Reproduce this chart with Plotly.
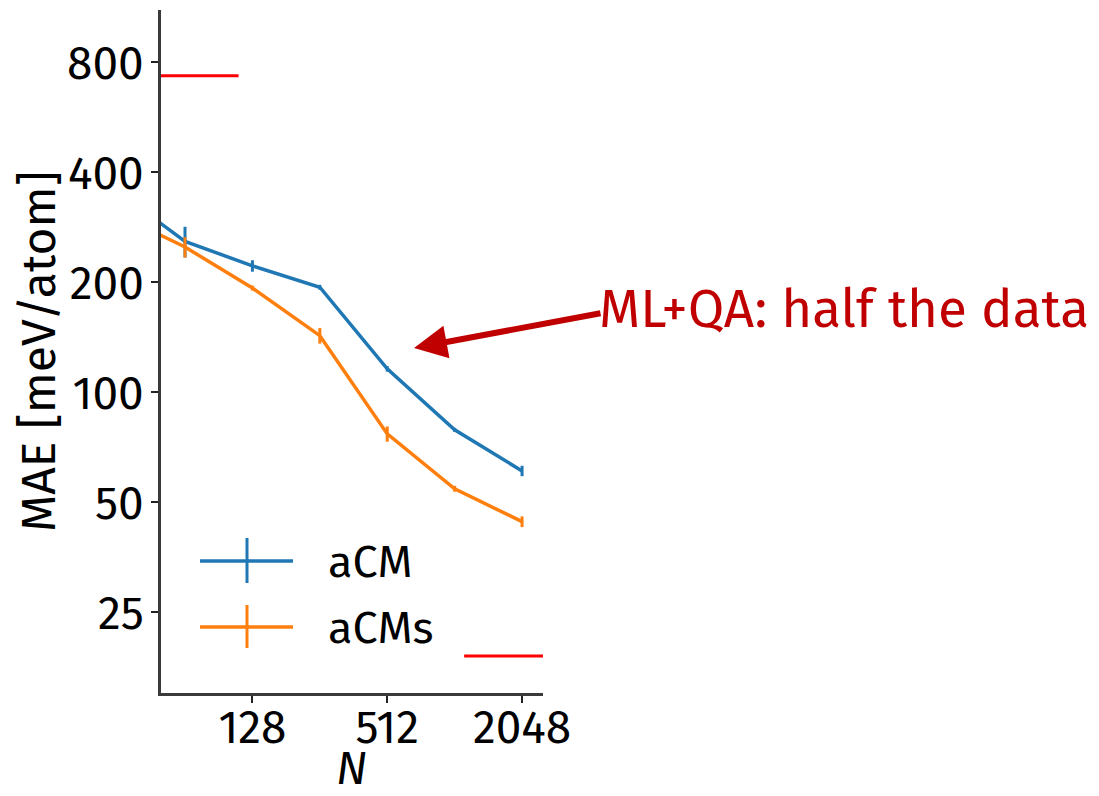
import plotly.graph_objects as go
import numpy as np

# ---- data ----
N = [32, 64, 128, 256, 512, 1024, 2048]
acm = [355, 259, 222, 194, 116, 79, 61]
acm_err = [20, 25, 8, 3, 2, 1, 2]
acms = [307, 250, 193, 143, 77, 54.5, 44.3]
acms_err = [20, 16, 3, 7, 3.7, 1, 1.5]

ref_top_x = [32, 111]
ref_top_y = [736, 736]
ref_bot_x = [1129, 4096]
ref_bot_y = [19, 19]

x_ticks = [128, 512, 2048]
y_ticks = [25, 50, 100, 200, 400, 800]

series_names = ["aCM", "aCMs"]
annotation_text = "ML+QA: half the data"
x_title = "<i>N</i>"
y_title = "MAE [meV/atom]"

BLUE = "#1f77b4"
ORANGE = "#ff7f0e"
DARKRED = "#c00000"
FONT = "Fira Sans, Noto Sans, sans-serif"

fig = go.Figure()

fig.add_trace(go.Scatter(x=ref_top_x, y=ref_top_y, mode="lines",
                         line=dict(color="red", width=3), showlegend=False))
fig.add_trace(go.Scatter(x=ref_bot_x, y=ref_bot_y, mode="lines",
                         line=dict(color="red", width=3), showlegend=False))

for y, e, c, name in [(acm, acm_err, BLUE, series_names[0]),
                      (acms, acms_err, ORANGE, series_names[1])]:
    fig.add_trace(go.Scatter(
        x=N, y=y, mode="lines", name=name,
        line=dict(color=c, width=3.5),
        error_y=dict(type="data", array=e, visible=True,
                     color=c, thickness=3, width=0),
        showlegend=False))

# plot area in page pixels (the page body adds an 8px offset)
OFF = 8
L, R, T, B = 161, 543, 10, 693
W, H = 1099 - OFF, 796 - OFF


def px(xp):
    return (xp - L) / (R - L)


def py(yp):
    return (B - yp) / (B - T)


# manual legend (line with error-bar cross)
shapes = []
annots = []
for (ly, bar_top, bar_bot, c, name) in [(561, 538, 583, BLUE, series_names[0]),
                                         (627, 605, 648, ORANGE, series_names[1])]:
    shapes.append(dict(type="line", xref="paper", yref="paper",
                       x0=px(200), x1=px(293), y0=py(ly), y1=py(ly),
                       line=dict(color=c, width=3.5)))
    shapes.append(dict(type="line", xref="paper", yref="paper",
                       x0=px(247), x1=px(247), y0=py(bar_top), y1=py(bar_bot),
                       line=dict(color=c, width=3)))
    annots.append(dict(xref="paper", yref="paper", x=px(326), y=py(ly + 1),
                       xanchor="left", yanchor="middle", text=name,
                       showarrow=False, font=dict(family=FONT, size=45, color="black")))

# arrow
annots.append(dict(xref="paper", yref="paper", x=px(414), y=py(348),
                   ax=188, ay=-35, axref="pixel", ayref="pixel",
                   text="", showarrow=True, arrowhead=2, arrowsize=1.1,
                   arrowwidth=6, arrowcolor=DARKRED))
# annotation text
annots.append(dict(xref="paper", yref="paper", x=px(597), y=py(309),
                   xanchor="left", yanchor="middle", text=annotation_text,
                   showarrow=False, font=dict(family=FONT, size=53, color=DARKRED)))

# axis titles
annots.append(dict(xref="paper", yref="paper", x=px(351), y=py(769),
                   xanchor="center", yanchor="middle", text=x_title,
                   showarrow=False, font=dict(family=FONT, size=46, color="black")))
annots.append(dict(xref="paper", yref="paper", x=px(39), y=py(352),
                   xanchor="center", yanchor="middle", text=y_title, textangle=-90,
                   showarrow=False, font=dict(family=FONT, size=48, color="black")))

fig.update_layout(
    width=W, height=H,
    margin=dict(l=L - OFF, r=W - (R - OFF), t=T - OFF, b=H - (B - OFF), pad=0),
    paper_bgcolor="white", plot_bgcolor="white",
    font=dict(family=FONT, color="black"),
    shapes=shapes, annotations=annots,
    showlegend=False,
)

fig.update_xaxes(type="log", range=[np.log10(50), np.log10(2540)],
                 tickvals=x_ticks, ticktext=[str(v) for v in x_ticks],
                 showgrid=False, zeroline=False, automargin=False,
                 showline=True, linecolor="#3a3a3a", linewidth=3,
                 ticks="outside", ticklen=7, tickwidth=2, tickcolor="#222",
                 ticklabelstandoff=-15,
                 tickfont=dict(family=FONT, size=46, color="black"))
fig.update_yaxes(type="log", range=[np.log10(15.05), np.log10(1113)],
                 tickvals=y_ticks, ticktext=[str(v) for v in y_ticks],
                 showgrid=False, zeroline=False, automargin=False,
                 showline=True, linecolor="#3a3a3a", linewidth=3,
                 ticks="outside", ticklen=7, tickwidth=2, tickcolor="#222",
                 ticklabelstandoff=-2,
                 tickfont=dict(family=FONT, size=46, color="black"))

fig.write_html("out.html")
